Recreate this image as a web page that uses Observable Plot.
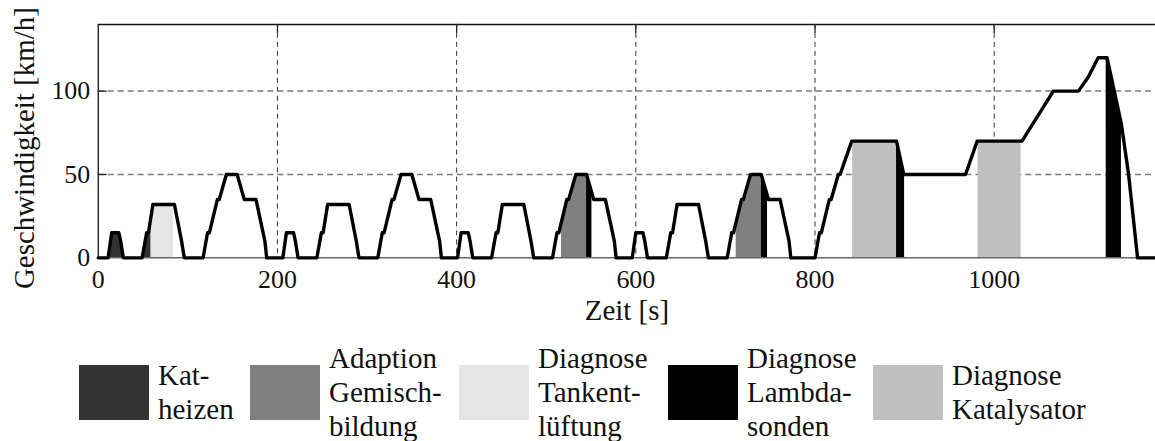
<!DOCTYPE html>
<html>
<head>
<meta charset="utf-8">
<script src="https://cdn.jsdelivr.net/npm/d3@7"></script>
<script src="https://cdn.jsdelivr.net/npm/@observablehq/plot@0.6"></script>
<style>
  body { margin: 0; background: #fff; overflow: hidden; font-family: "Liberation Serif", serif; }
  #chart { position: relative; width: 1155px; height: 441px; overflow: hidden; }
  #legend { position: absolute; left: 0; top: 341px; width: 1155px; height: 102px; }
  .item { position: absolute; top: 0; height: 102px; display: flex; align-items: center; }
  .sw { width: 70px; height: 55px; margin-right: 9px; flex: none; }
  .lab { font-size: 29px; line-height: 34px; color: #111; white-space: nowrap; }
</style>
</head>
<body>
<div id="chart"><div id="legend"></div></div>
<script>
// Driving cycle: time [s] and speed [km/h] at every breakpoint (four urban parts + extra-urban part)
const speedTime = [
  0, 11, 15, 23, 25, 28, 49, 54, 56, 61, 85, 93, 96, 117, 122, 124, 133, 135, 143, 155, 163, 176, 186, 188,
  195, 206, 210, 218, 220, 223, 244, 249, 251, 256, 280, 288, 291, 312, 317, 319, 328, 330, 338, 350, 358, 371, 381, 383,
  390, 401, 405, 413, 415, 418, 439, 444, 446, 451, 475, 483, 486, 507, 512, 514, 523, 525, 533, 545, 553, 566, 576, 578,
  585, 596, 600, 608, 610, 613, 634, 639, 641, 646, 670, 678, 681, 702, 707, 709, 718, 720, 728, 740, 748, 761, 771, 773,
  780, 800, 805, 807, 816, 818, 826, 828, 841, 891, 899, 968, 981, 1031, 1066, 1094, 1105, 1116, 1126, 1142, 1150, 1160, 1180
];
const speedKmh = [
  0, 0, 15, 15, 10, 0, 0, 15, 15, 32, 32, 10, 0, 0, 15, 15, 35, 35, 50, 50, 35, 35, 10, 0,
  0, 0, 15, 15, 10, 0, 0, 15, 15, 32, 32, 10, 0, 0, 15, 15, 35, 35, 50, 50, 35, 35, 10, 0,
  0, 0, 15, 15, 10, 0, 0, 15, 15, 32, 32, 10, 0, 0, 15, 15, 35, 35, 50, 50, 35, 35, 10, 0,
  0, 0, 15, 15, 10, 0, 0, 15, 15, 32, 32, 10, 0, 0, 15, 15, 35, 35, 50, 50, 35, 35, 10, 0,
  0, 0, 15, 15, 35, 35, 50, 50, 70, 70, 50, 50, 70, 70, 100, 100, 108.5, 120, 120, 80, 50, 0, 0
];

// Diagnostic functions and the colour of each
const categories = ["Kat-heizen", "Adaption Gemischbildung", "Diagnose Tankentlüftung", "Diagnose Lambdasonden", "Diagnose Katalysator"];
const categoryColors = ["#333333", "#808080", "#e5e5e5", "#000000", "#bfbfbf"];
const legendLines = [["Kat-", "heizen"], ["Adaption", "Gemisch-", "bildung"], ["Diagnose", "Tankent-", "lüftung"], ["Diagnose", "Lambda-", "sonden"], ["Diagnose", "Katalysator"]];

// Time windows in which each function is active
const regionCategory = ["Kat-heizen", "Diagnose Tankentlüftung", "Adaption Gemischbildung", "Diagnose Lambdasonden",
  "Adaption Gemischbildung", "Diagnose Lambdasonden", "Diagnose Katalysator", "Diagnose Lambdasonden",
  "Diagnose Katalysator", "Diagnose Lambdasonden"];
const regionStart = [8, 59, 517, 545, 712, 740, 842, 891, 982, 1125];
const regionEnd   = [59, 84, 545, 551, 740, 747, 891, 900, 1030, 1142];

// Axis ticks
const xTicks = [0, 200, 400, 600, 800, 1000];
const yTicks = [0, 50, 100];

const curve = speedTime.map((t, i) => ({t, v: speedKmh[i]}));

// speed on the piecewise-linear cycle at time t
const bis = d3.bisector(d => d.t).right;
function speedAt(t) {
  const i = Math.min(Math.max(bis(curve, t), 1), curve.length - 1);
  const a = curve[i - 1], b = curve[i];
  return a.v + (b.v - a.v) * (t - a.t) / (b.t - a.t);
}

// fill polygons: the part of the cycle under each active window
const fillPoints = [];
regionStart.forEach((s, k) => {
  const e = regionEnd[k], category = regionCategory[k];
  fillPoints.push({id: k, category, t: s, v: speedAt(s)});
  curve.filter(d => d.t > s && d.t < e).forEach(d => fillPoints.push({id: k, category, t: d.t, v: d.v}));
  fillPoints.push({id: k, category, t: e, v: speedAt(e)});
});

const frameH = 340 - 24 - 82;
const frameW = 1158 - 98;

const chart = Plot.plot({
  width: 1158,
  height: 340,
  marginLeft: 98,
  marginRight: 0,
  marginTop: 24,
  marginBottom: 82,
  style: {fontFamily: '"Liberation Serif", serif', fontSize: "26px", color: "#111", background: "white", overflow: "visible"},
  x: {domain: [0, 1180], ticks: xTicks, tickSize: 0, tickPadding: 12, tickFormat: d3.format("d"), label: null},
  y: {domain: [0, 140], ticks: yTicks, tickSize: 0, tickPadding: 8, tickFormat: d3.format("d"), label: null},
  color: {domain: categories, range: categoryColors},
  marks: [
    // grid
    Plot.ruleX(xTicks.slice(1), {stroke: "#333", strokeWidth: 1, strokeDasharray: "5,4"}),
    Plot.ruleY(yTicks.slice(1), {stroke: "#7a7a7a", strokeWidth: 1.5, strokeDasharray: "6,4"}),
    // active windows (explicit y1/y2 so that nothing is stacked)
    Plot.areaY(fillPoints, {x: "t", y1: 0, y2: "v", z: "id", fill: "category"}),
    // frame
    Plot.ruleY([0], {stroke: "#666", strokeWidth: 1.5}),
    Plot.ruleY([140], {stroke: "#111", strokeWidth: 1.5}),
    Plot.ruleX([0], {stroke: "#111", strokeWidth: 1.3}),
    // inner tick marks
    Plot.ruleX(xTicks.slice(1), {stroke: "#222", strokeWidth: 1.3, insetBottom: frameH - 9}),
    Plot.ruleY(yTicks.slice(1), {stroke: "#222", strokeWidth: 1.3, insetRight: frameW - 9}),
    // speed trace
    Plot.line(curve, {x: "t", y: "v", stroke: "#000", strokeWidth: 3.4, strokeLinejoin: "round", strokeLinecap: "round"}),
    // axis titles
    Plot.text(["Zeit [s]"], {text: d => d, frameAnchor: "bottom", lineAnchor: "middle", textAnchor: "middle", dy: 53, fontSize: 29}),
    Plot.text(["Geschwindigkeit [km/h]"], {text: d => d, frameAnchor: "left", lineAnchor: "middle", textAnchor: "middle", dx: -74, dy: 7, rotate: -90, fontSize: 29})
  ]
});
document.getElementById("chart").prepend(chart);

// legend below the chart
const legendLeft = [79, 250, 459, 668, 873];
const legend = document.getElementById("legend");
categories.forEach((c, i) => {
  const item = document.createElement("div");
  item.className = "item";
  item.style.left = legendLeft[i] + "px";
  const sw = document.createElement("div");
  sw.className = "sw";
  sw.style.background = categoryColors[i];
  const lab = document.createElement("div");
  lab.className = "lab";
  lab.innerHTML = legendLines[i].join("<br>");
  item.append(sw, lab);
  legend.append(item);
});
</script>
</body>
</html>
